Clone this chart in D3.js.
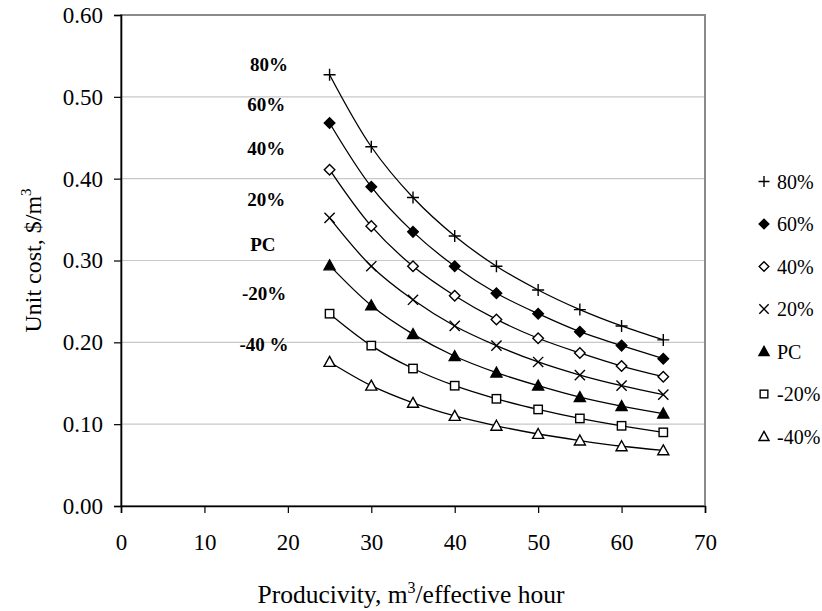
<!DOCTYPE html>
<html><head><meta charset="utf-8">
<script src="https://cdn.jsdelivr.net/npm/d3@7"></script>
<style>body{margin:0;background:#fff;} svg{display:block;} text{font-family:'Liberation Serif','Times New Roman',serif;}</style>
</head><body>
<svg id="c" width="822" height="611"></svg>
<script>
const xValues = [25, 30, 35, 40, 45, 50, 55, 60, 65];
const seriesNames = ["80%", "60%", "40%", "20%", "PC", "-20%", "-40%"];
const curveLabels = ["80%", "60%", "40%", "20%", "PC", "-20%", "-40 %"];
const s80 = [0.527, 0.439, 0.377, 0.330, 0.293, 0.264, 0.240, 0.220, 0.203];
const s60 = [0.468, 0.390, 0.335, 0.293, 0.260, 0.235, 0.213, 0.196, 0.180];
const s40 = [0.411, 0.342, 0.293, 0.257, 0.228, 0.205, 0.187, 0.171, 0.158];
const s20 = [0.352, 0.293, 0.252, 0.220, 0.196, 0.176, 0.160, 0.147, 0.136];
const sPC = [0.294, 0.245, 0.210, 0.183, 0.163, 0.147, 0.133, 0.122, 0.113];
const sM20 = [0.235, 0.196, 0.168, 0.147, 0.131, 0.118, 0.107, 0.098, 0.090];
const sM40 = [0.176, 0.147, 0.126, 0.110, 0.098, 0.088, 0.080, 0.073, 0.068];
const xTicks = [0, 10, 20, 30, 40, 50, 60, 70];
const yTicks = [0, 0.1, 0.2, 0.3, 0.4, 0.5, 0.6];
const labelYs = [0.539, 0.491, 0.437, 0.375, 0.320, 0.260, 0.197]; // label anchor values
const labelXs = [17.75, 17.4, 17.4, 17.4, 17.0, 17.15, 17.15];       // label centres on x

const allSeries = [s80, s60, s40, s20, sPC, sM20, sM40];
const markerTypes = ["plus", "diamondFill", "diamondOpen", "cross", "triFill", "squareOpen", "triOpen"];

const svg = d3.select("#c");
const m = {l: 121, r: 705, t: 15, b: 506};
const x = d3.scaleLinear().domain([0, 70]).range([m.l, m.r]);
const y = d3.scaleLinear().domain([0, 0.6]).range([m.b, m.t]);
const FONT = "'Liberation Serif', 'Times New Roman', serif";

// gridlines
svg.append("g").selectAll("line").data(yTicks.slice(1)).join("line")
  .attr("x1", m.l).attr("x2", m.r).attr("y1", d => y(d)).attr("y2", d => y(d))
  .attr("stroke", "#c8c8c8").attr("stroke-width", 1.2);
// plot border
svg.append("rect").attr("x", m.l).attr("y", m.t).attr("width", m.r - m.l).attr("height", m.b - m.t)
  .attr("fill", "none").attr("stroke", "#8a8a8a").attr("stroke-width", 2);

// axes
const xAxis = d3.axisBottom(x).tickValues(xTicks).tickSize(7).tickPadding(21).tickFormat(d3.format("d"));
const gx = svg.append("g").attr("transform", `translate(0,${m.b})`).call(xAxis);
gx.select(".domain").attr("stroke", "#000").attr("stroke-width", 1.6);
gx.selectAll(".tick line").attr("stroke", "#000").attr("stroke-width", 1.2);
gx.selectAll("text").style("font-family", FONT).style("font-size", "23px").attr("fill", "#000");

const yAxis = d3.axisLeft(y).tickValues(yTicks).tickSize(7).tickPadding(11).tickFormat(d3.format(".2f"));
const gy = svg.append("g").attr("transform", `translate(${m.l},0)`).call(yAxis);
gy.select(".domain").attr("stroke", "#000").attr("stroke-width", 1.6);
gy.selectAll(".tick line").attr("stroke", "#000").attr("stroke-width", 1.2);
gy.selectAll("text").style("font-family", FONT).style("font-size", "23px").attr("fill", "#000");

// axis titles
const yt = svg.append("text").attr("transform", `translate(41,${(m.t + m.b) / 2}) rotate(-90)`)
  .attr("text-anchor", "middle").style("font-family", FONT).style("font-size", "24px");
yt.append("tspan").text("Unit cost, $/m");
yt.append("tspan").style("font-size", "15px").attr("dy", -10).text("3");

const xt = svg.append("text").attr("x", 411).attr("y", 603)
  .attr("text-anchor", "middle").style("font-family", FONT).style("font-size", "25.5px");
xt.append("tspan").text("Producivity, m");
xt.append("tspan").style("font-size", "16px").attr("dy", -10).text("3");
xt.append("tspan").attr("dy", 10).text("/effective hour");

// markers
function drawMarker(g, type, cx, cy, s) {
  const h = s / 2;
  if (type === "plus") {
    g.append("path").attr("d", `M${cx - h},${cy}H${cx + h}M${cx},${cy - h}V${cy + h}`)
      .attr("stroke", "#000").attr("stroke-width", 1.4).attr("fill", "none");
  } else if (type === "cross") {
    const k = h * 0.85;
    g.append("path").attr("d", `M${cx - k},${cy - k}L${cx + k},${cy + k}M${cx - k},${cy + k}L${cx + k},${cy - k}`)
      .attr("stroke", "#000").attr("stroke-width", 1.4).attr("fill", "none");
  } else if (type === "diamondFill" || type === "diamondOpen") {
    const k = h * 0.88;
    g.append("path").attr("d", `M${cx},${cy - k}L${cx + k},${cy}L${cx},${cy + k}L${cx - k},${cy}Z`)
      .attr("stroke", "#000").attr("stroke-width", 1.4)
      .attr("fill", type === "diamondFill" ? "#000" : "#fff");
  } else if (type === "triFill" || type === "triOpen") {
    const k = h * 0.92;
    g.append("path").attr("d", `M${cx},${cy - k}L${cx + k},${cy + k * 0.8}L${cx - k},${cy + k * 0.8}Z`)
      .attr("stroke", "#000").attr("stroke-width", 1.4)
      .attr("fill", type === "triFill" ? "#000" : "#fff");
  } else if (type === "squareOpen") {
    const k = h * 0.7;
    g.append("rect").attr("x", cx - k).attr("y", cy - k).attr("width", 2 * k).attr("height", 2 * k)
      .attr("stroke", "#000").attr("stroke-width", 1.4).attr("fill", "#fff");
  }
}

const line = d3.line().x((d, i) => x(xValues[i])).y(d => y(d)).curve(d3.curveCatmullRom.alpha(0.5));
allSeries.forEach((s, si) => {
  const g = svg.append("g");
  g.append("path").attr("d", line(s)).attr("fill", "none").attr("stroke", "#000").attr("stroke-width", 1.3);
  s.forEach((v, i) => drawMarker(g, markerTypes[si], x(xValues[i]), y(v), 12));
});

// curve labels
svg.append("g").selectAll("text").data(curveLabels).join("text")
  .attr("x", (d, i) => x(labelXs[i])).attr("y", (d, i) => y(labelYs[i]))
  .attr("text-anchor", "middle").attr("dominant-baseline", "central")
  .style("font-family", FONT).style("font-weight", "bold").style("font-size", "19px").text(d => d);

// legend
const lg = svg.append("g");
seriesNames.forEach((n, i) => {
  const ly = 181.5 + i * 42.5;
  drawMarker(lg, markerTypes[i], 764, ly, 11);
  lg.append("text").attr("x", 777).attr("y", ly).attr("dominant-baseline", "central")
    .style("font-family", FONT).style("font-size", "20px").text(n);
});
</script>
</body></html>
